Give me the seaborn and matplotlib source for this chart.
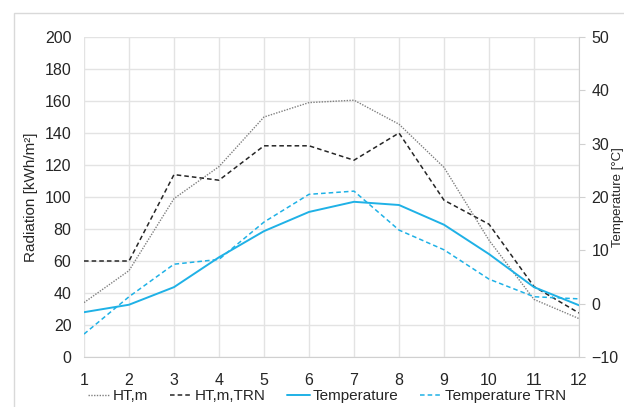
import pandas as pd
import seaborn as sns
import matplotlib.pyplot as plt
from matplotlib.patches import Rectangle
from matplotlib.lines import Line2D

months = list(range(1, 13))
ht_m = [34, 54, 99, 119, 150, 159, 160.5, 145.5, 118.5, 73, 36, 24]
ht_m_trn = [60, 60, 114, 110.5, 132, 132, 123, 140, 98, 83, 44, 27.5]
temp = [-1.6, -0.2, 3.1, 8.7, 13.6, 17.2, 19.1, 18.5, 14.8, 9.3, 3.1, -0.3]
temp_trn = [-5.7, 1.3, 7.4, 8.3, 15.3, 20.5, 21.1, 13.8, 10.1, 4.6, 1.3, 0.9]

blue = '#1fb1e6'

sns.set_style('white')
plt.rcParams['font.family'] = ['Liberation Sans', 'DejaVu Sans']

df = pd.DataFrame({'month': months, 'HT,m': ht_m, 'HT,m,TRN': ht_m_trn,
                   'Temperature': temp, 'Temperature TRN': temp_trn})

fig = plt.figure(figsize=(6.24, 4.07), dpi=100)
# outer chart border
fig.patches.append(Rectangle((14 / 624, -0.1), 1.0, (407 - 13) / 407 + 0.1,
                             transform=fig.transFigure, fill=False,
                             edgecolor='#d9d9d9', linewidth=1))
ax = fig.add_axes([84 / 624, 50 / 407, 495 / 624, 320 / 407])
ax2 = ax.twinx()

sns.lineplot(data=df, x='month', y='HT,m', ax=ax, color='#808080',
             linestyle=(0, (1, 1)), linewidth=1.0)
sns.lineplot(data=df, x='month', y='HT,m,TRN', ax=ax, color='#262626',
             linestyle=(0, (3, 2)), linewidth=1.1)
sns.lineplot(data=df, x='month', y='Temperature', ax=ax2, color=blue,
             linewidth=1.4)
sns.lineplot(data=df, x='month', y='Temperature TRN', ax=ax2, color=blue,
             linestyle=(0, (3, 2)), linewidth=1.1)

ax.set_xlim(1, 12)
ax.set_ylim(0, 200)
ax.set_yticks(range(0, 201, 20))
ax.set_xticks(months)
ax2.set_ylim(-10, 50)
ax2.set_yticks(range(-10, 51, 10))

ax.grid(True, color='#e3e3e3', linewidth=1)
ax.set_axisbelow(True)
for s in ['top', 'left', 'right']:
    ax.spines[s].set_visible(False)
ax.spines['bottom'].set_color('#d0d0d0')
for s in ['top', 'left', 'bottom']:
    ax2.spines[s].set_visible(False)
ax2.spines['right'].set_color('#d0d0d0')

ax.tick_params(axis='y', length=0, labelsize=11.5, colors='#262626', pad=9)
ax.tick_params(axis='x', length=0, labelsize=11.5, colors='#262626', pad=11.5)
ax2.tick_params(axis='y', length=4, color='#d0d0d0', labelsize=11.5,
                labelcolor='#262626', pad=5)

ax.set_xlabel('')
ax.set_ylabel('Radiation [kWh/m²]', fontsize=11, color='#262626', labelpad=5)
ax2.set_ylabel('Temperature [°C]', fontsize=9.5, color='#262626',
               va='center', ha='center')
ax2.yaxis.set_label_coords((618 - 84) / 495, 0.5)

handles = [
    Line2D([], [], color='#808080', linestyle=(0, (1, 1)), linewidth=1.0),
    Line2D([], [], color='#262626', linestyle=(0, (3, 2)), linewidth=1.1),
    Line2D([], [], color=blue, linewidth=1.4),
    Line2D([], [], color=blue, linestyle=(0, (3, 2)), linewidth=1.1),
]
labels = ['HT,m', 'HT,m,TRN', 'Temperature', 'Temperature TRN']
fig.legend(handles, labels, loc='center', bbox_to_anchor=(327 / 624, 1 - 396 / 407),
           ncol=4, frameon=False, fontsize=11, handlelength=1.45,
           handletextpad=0.2, columnspacing=1.4, labelcolor='#262626')

fig.savefig('out.png', dpi=100)
